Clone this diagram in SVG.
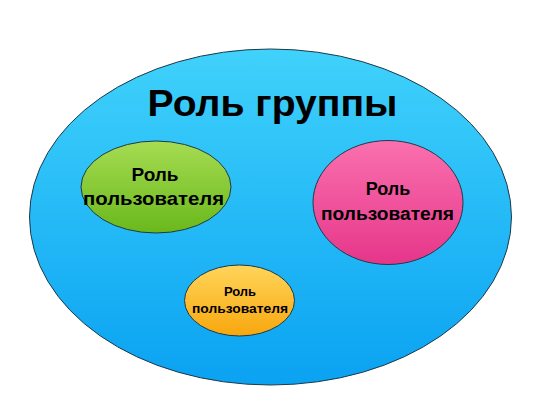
<svg xmlns="http://www.w3.org/2000/svg" width="542" height="405" viewBox="0 0 542 405">
<defs>
<linearGradient id="gBlue" x1="0" y1="0" x2="0" y2="1"><stop offset="0" stop-color="#40d2fb"/><stop offset="1" stop-color="#0aa2f2"/></linearGradient>
<linearGradient id="gGreen" x1="0" y1="0" x2="0" y2="1"><stop offset="0" stop-color="#a6dc52"/><stop offset="1" stop-color="#6ab81c"/></linearGradient>
<linearGradient id="gPink" x1="0" y1="0" x2="0" y2="1"><stop offset="0" stop-color="#fa70ae"/><stop offset="1" stop-color="#e6368a"/></linearGradient>
<linearGradient id="gOrange" x1="0" y1="0" x2="0" y2="1"><stop offset="0" stop-color="#ffd55a"/><stop offset="1" stop-color="#f8a70e"/></linearGradient>
</defs>
<style>
text{font-family:"Liberation Sans",Arial,sans-serif;font-weight:bold;fill:#000;text-anchor:middle}
ellipse{stroke:#1c3a4a;stroke-width:1}
</style>
<rect width="542" height="405" fill="#ffffff"/>
<g id="group-role">
<ellipse cx="270.5" cy="217" rx="241" ry="168" fill="url(#gBlue)"/>
<text x="272.5" y="116" font-size="37" textLength="250" lengthAdjust="spacingAndGlyphs">Роль группы</text>
</g>
<g id="user-role-green">
<ellipse cx="156" cy="187" rx="75" ry="46" fill="url(#gGreen)"/>
<text x="155" y="181" font-size="19">Роль</text>
<text x="153.5" y="205" font-size="19" textLength="141" lengthAdjust="spacingAndGlyphs">пользователя</text>
</g>
<g id="user-role-pink">
<ellipse cx="388" cy="202.5" rx="75" ry="62" fill="url(#gPink)"/>
<text x="388" y="195" font-size="18">Роль</text>
<text x="387.5" y="219.5" font-size="18" textLength="133" lengthAdjust="spacingAndGlyphs">пользователя</text>
</g>
<g id="user-role-orange">
<ellipse cx="239.5" cy="300.5" rx="55" ry="35.5" fill="url(#gOrange)"/>
<text x="240" y="296" font-size="13">Роль</text>
<text x="240" y="313" font-size="13" textLength="96" lengthAdjust="spacingAndGlyphs">пользователя</text>
</g>
<g id="connectors"/>
</svg>
